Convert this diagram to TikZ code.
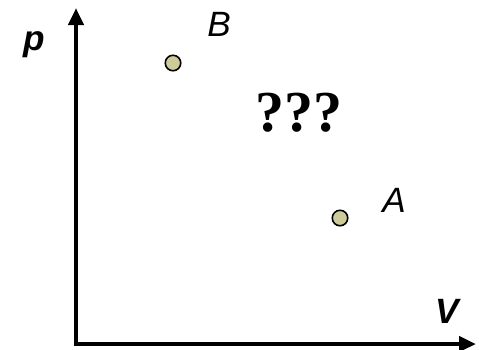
\documentclass[tikz,border=0pt]{standalone}
\usepackage{fontspec}
\setmainfont{Liberation Serif}
\setsansfont{Liberation Sans}
\usetikzlibrary{arrows.meta}
\definecolor{statefill}{RGB}{205,203,153}
\tikzset{
    axis/.style={line width=2.6pt, -{Triangle[width=0.3cm, length=0.34cm]}},
    state/.style={circle, draw, line width=0.9pt, fill=statefill, minimum size=0.31cm, inner sep=0pt},
    axislabel/.style={font=\sffamily\bfseries\itshape\fontsize{20}{24}\selectfont},
    statelabel/.style={font=\sffamily\itshape\fontsize{20}{24}\selectfont}
}
\begin{document}
\begin{tikzpicture}[x=0.02cm, y=-0.02cm]
    \useasboundingbox (0,0) rectangle (479,349);

    % Achsen
    \coordinate (ptip) at (76,8);
    \coordinate (vtip) at (476,344);
    \coordinate (vstart) at (74,344);
    \coordinate (pstart) at (76,346);
    \draw[axis] (pstart) -- (ptip);
    \draw[axis] (vstart) -- (vtip);
    \node[axislabel] (plabel) at (34,45) {p};
    \node[axislabel] (vlabel) at (447,311) {V};

    % Zustaende
    \node[state] (B) at (173,63) {};
    \node[statelabel] (Blabel) at (219,24) {B};
    \node[state] (A) at (340,218) {};
    \node[statelabel] (Alabel) at (394,200) {A};

    % unbekannter Weg
    \node[font=\bfseries\fontsize{33}{38}\selectfont] (path) at (299,113) {???};
\end{tikzpicture}
\end{document}
